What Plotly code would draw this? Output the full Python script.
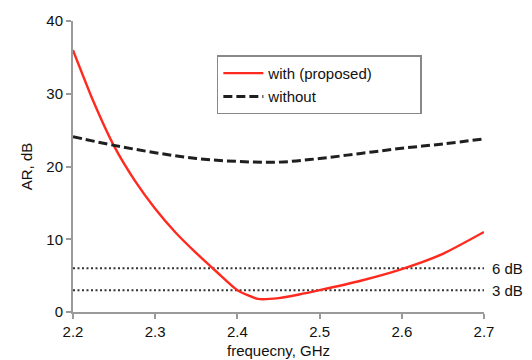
import plotly.graph_objects as go

freq_with = [2.2, 2.225, 2.25, 2.275, 2.3, 2.325, 2.35, 2.375, 2.4, 2.425, 2.45, 2.475, 2.5, 2.55, 2.6, 2.65, 2.7]
ar_with = [36.0, 28.9, 22.8, 18.1, 14.2, 10.9, 8.1, 5.5, 3.0, 1.8, 1.9, 2.4, 3.0, 4.3, 5.9, 8.0, 11.0]

freq_without = [2.2, 2.25, 2.3, 2.35, 2.4, 2.45, 2.5, 2.55, 2.6, 2.65, 2.7]
ar_without = [24.1, 22.9, 21.9, 21.1, 20.7, 20.6, 21.1, 21.8, 22.5, 23.1, 23.8]

ref_levels = [6, 3]
ref_labels = ["6 dB", "3 dB"]
x_range = [2.2, 2.7]

FONT = "Liberation Sans, Arial, Helvetica, sans-serif"
PAD = "\u00a0" * 10

fig = go.Figure()
for lvl in ref_levels:
    fig.add_trace(go.Scatter(x=x_range, y=[lvl, lvl], mode="lines",
                             line=dict(color="#333333", width=2, dash="2px,2.5px"),
                             showlegend=False, hoverinfo="skip"))
fig.add_trace(go.Scatter(x=freq_with, y=ar_with, mode="lines", name="with (proposed)" + PAD,
                         legendgroup="a",
                         line=dict(color="#ff2a1f", width=2.4, shape="spline", smoothing=0.6)))
fig.add_trace(go.Scatter(x=freq_without, y=ar_without, mode="lines", name="without",
                         legendgroup="b",
                         line=dict(color="#1f1f1f", width=3, dash="9px,4px", shape="spline")))

for lvl, lab in zip(ref_levels, ref_labels):
    fig.add_annotation(x=1.0, xref="paper", y=lvl, yref="y", text=lab, showarrow=False,
                       xanchor="left", xshift=6, font=dict(size=15, color="#111111", family=FONT))

fig.add_annotation(x=0.5, xref="paper", y=0, yref="paper", yshift=-38, text="frequecny, GHz",
                   showarrow=False, yanchor="middle", font=dict(size=15, color="#111111", family=FONT))

fig.update_layout(
    width=532, height=360,
    margin=dict(l=73, r=48, t=18, b=48),
    paper_bgcolor="white", plot_bgcolor="white",
    font=dict(family=FONT, size=15, color="#111111"),
    legend=dict(x=0.35, y=0.882, xanchor="left", yanchor="top",
                bordercolor="#888888", borderwidth=1.5, bgcolor="white",
                font=dict(size=15, family=FONT), itemwidth=40,
                tracegroupgap=1),
    xaxis=dict(range=x_range, tickvals=[2.2, 2.3, 2.4, 2.5, 2.6, 2.7],
               ticktext=["2.2", "2.3", "2.4", "2.5", "2.6", "2.7"],
               showgrid=False, zeroline=False, showline=True, linecolor="#9a9a9a", linewidth=2,
               ticks="outside", ticklen=5, tickcolor="#9a9a9a", tickwidth=1.5,
               tickfont=dict(size=15)),
    yaxis=dict(range=[0, 40], tickvals=[0, 10, 20, 30, 40],
               showgrid=False, zeroline=False, showline=True, linecolor="#9a9a9a", linewidth=2,
               ticks="outside", ticklen=5, tickcolor="#9a9a9a", tickwidth=1.5,
               tickfont=dict(size=15),
               title=dict(text="AR, dB", font=dict(size=15), standoff=10)),
)

fig.write_html("out.html")
